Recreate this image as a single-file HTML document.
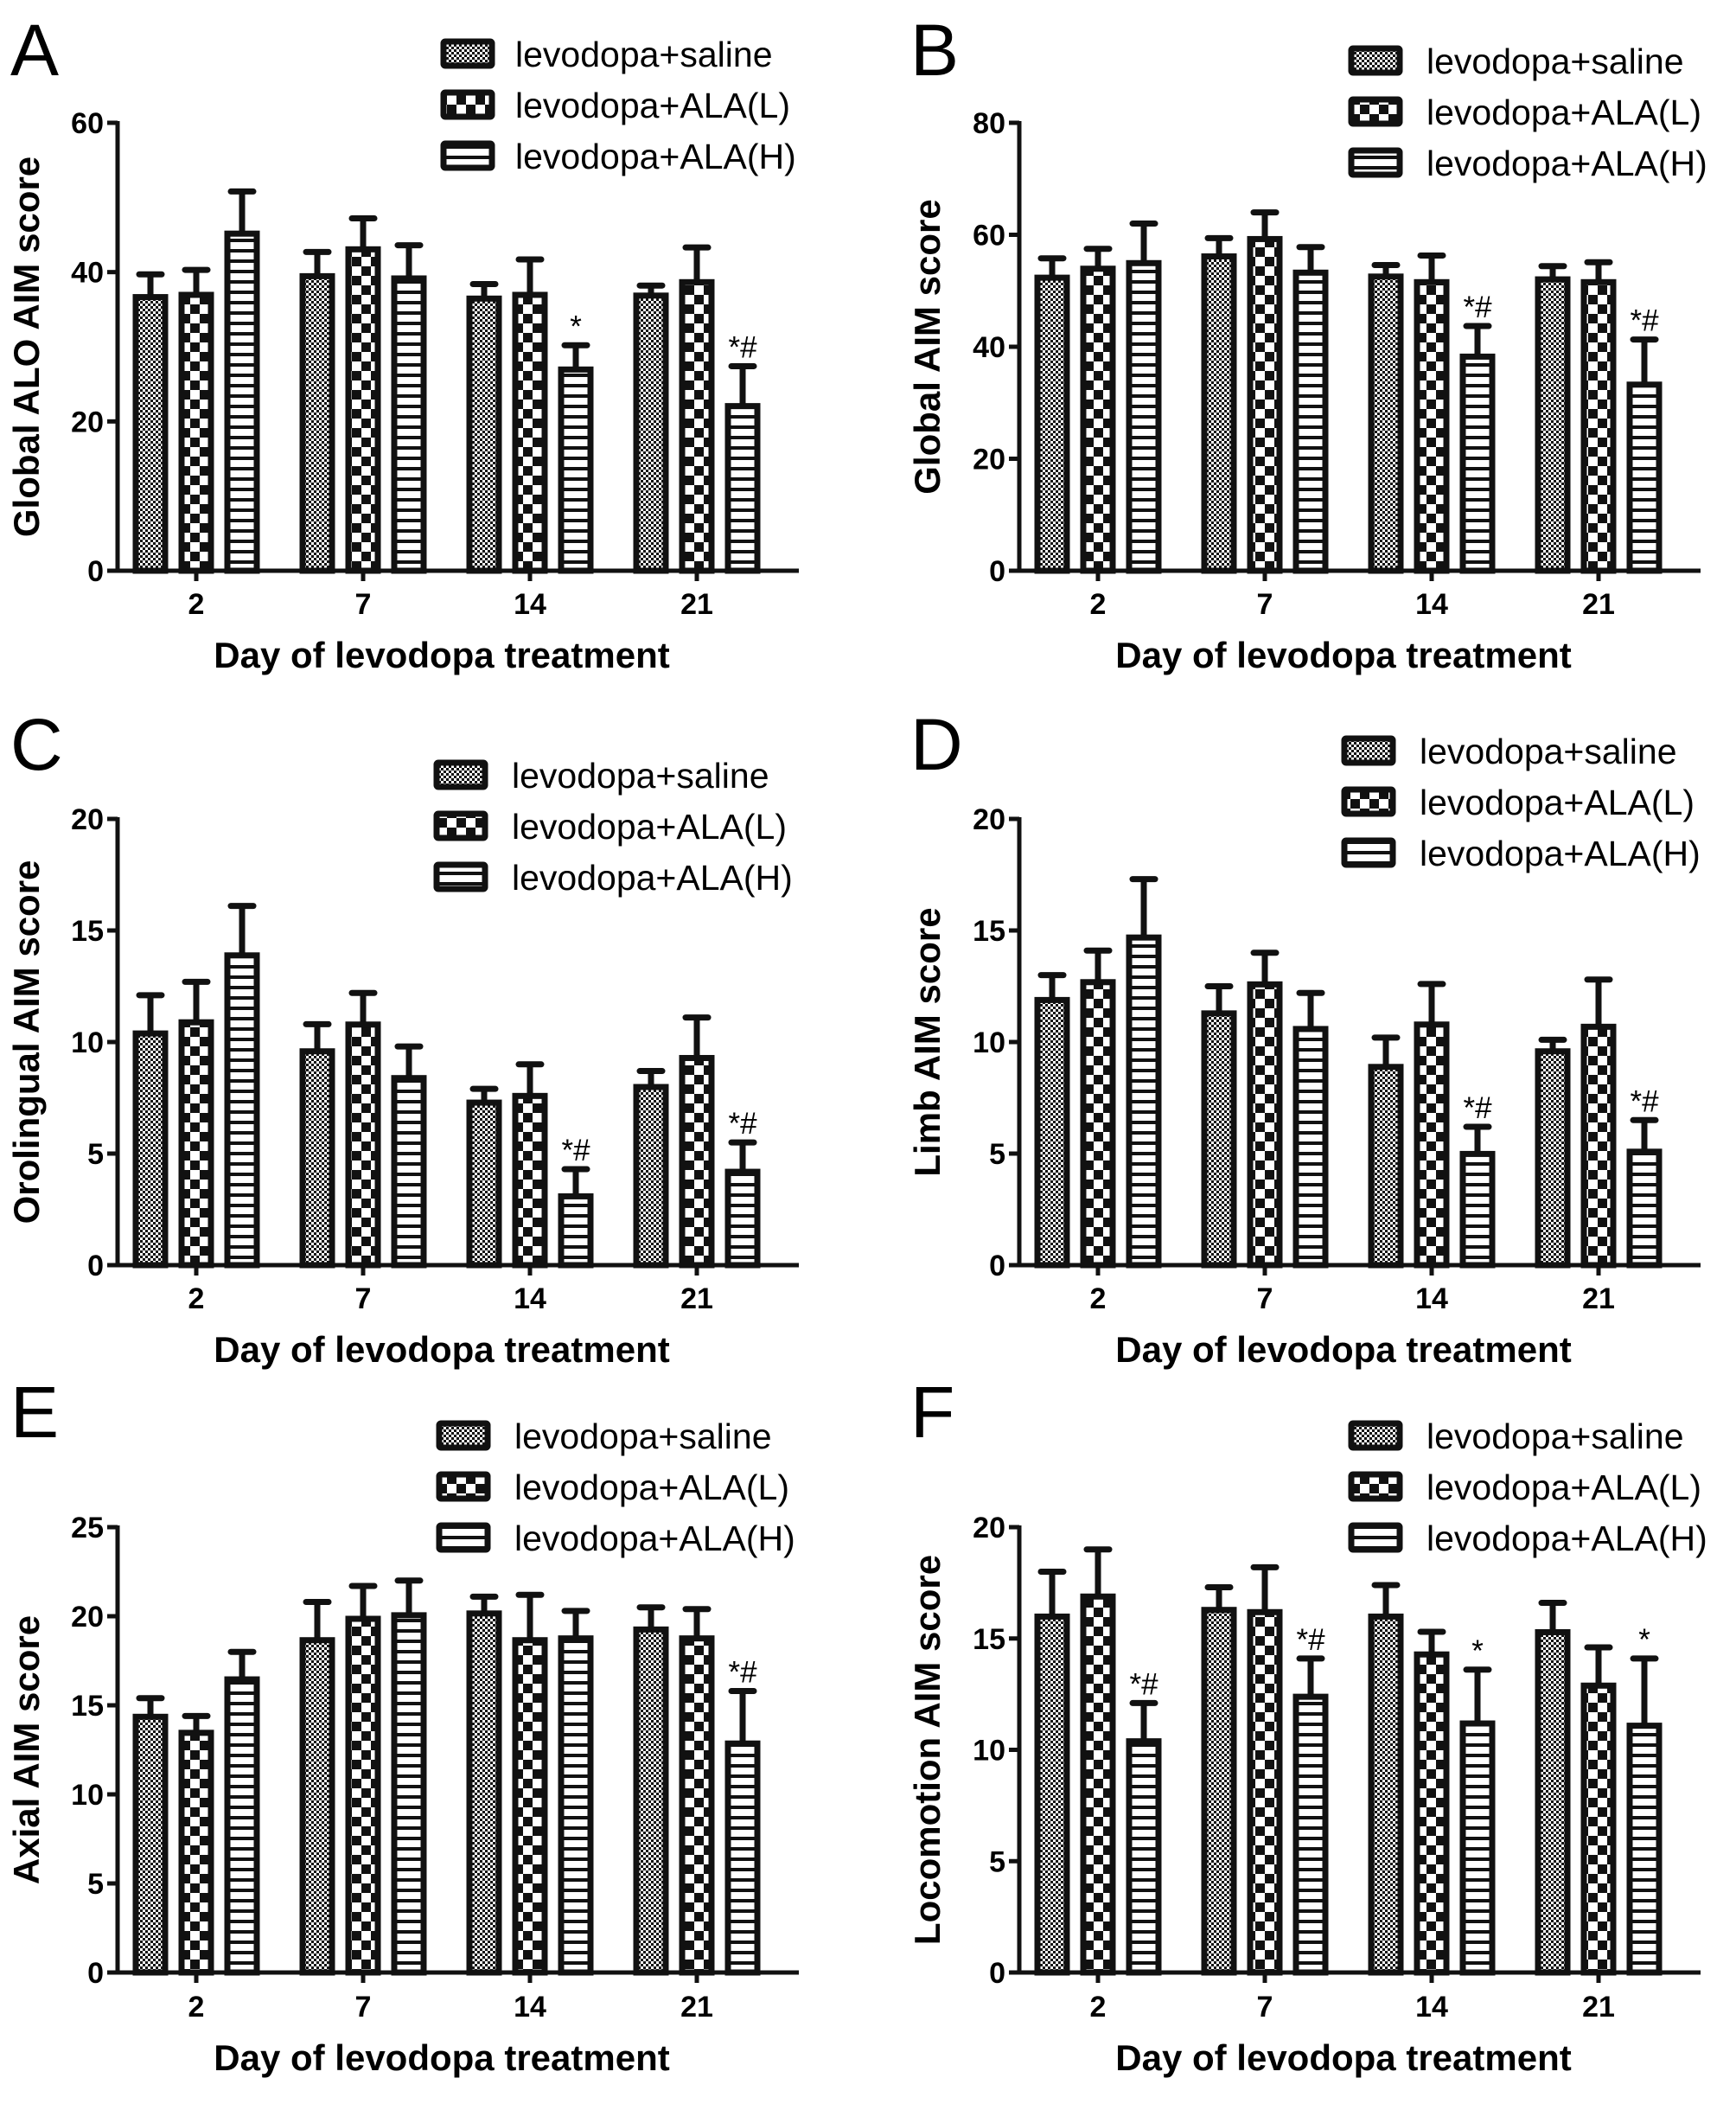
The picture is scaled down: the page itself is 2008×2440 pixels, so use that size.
<!DOCTYPE html>
<html><head><meta charset="utf-8"><style>
html,body{margin:0;padding:0;background:#fff;}
svg{display:block;}
text{font-family:"Liberation Sans",Arial,sans-serif;}
</style></head><body>
<svg id="fig" width="2008" height="2440" viewBox="0 0 2008 2440" xmlns="http://www.w3.org/2000/svg">
<defs>
<pattern id="pSal" width="6" height="6" patternUnits="userSpaceOnUse"><rect width="6" height="6" fill="#fff"/><rect width="3" height="3" fill="#111"/><rect x="3" y="3" width="3" height="3" fill="#111"/></pattern>
<pattern id="pL" width="22" height="22" patternUnits="userSpaceOnUse"><rect width="22" height="22" fill="#fff"/><rect width="11" height="11" fill="#111"/><rect x="11" y="11" width="11" height="11" fill="#111"/></pattern>
<pattern id="pH" width="12" height="12" patternUnits="userSpaceOnUse"><rect width="12" height="12" fill="#fff"/><rect y="0" width="12" height="4" fill="#111"/></pattern>
</defs>
</svg>
<script>
const categories = ["2","7","14","21"];
const seriesNames = ["levodopa+saline","levodopa+ALA(L)","levodopa+ALA(H)"];
// Panel A
const aSaline = [37,39.8,36.8,37.2], aSalineErr = [2.7,2.9,1.6,1.0];
const aL = [37.3,43.4,37.3,39], aLErr = [3.0,3.8,4.4,4.3];
const aH = [45.5,39.5,27.3,22.4], aHErr = [5.3,4.1,2.9,5.0];
const aMarks = ["","","*","*#"];
const aTicks = [0,20,40,60];
// Panel B
const bSaline = [52.8,56.6,53,52.5], bSalineErr = [3.0,2.8,1.6,1.9];
const bL = [54.4,59.7,52,52], bLErr = [3.1,4.3,4.3,3.1];
const bH = [55.4,53.7,38.7,33.7], bHErr = [6.6,4.1,5.0,7.6];
const bMarks = ["","","*#","*#"];
const bTicks = [0,20,40,60,80];
// Panel C
const cSaline = [10.5,9.7,7.4,8.1], cSalineErr = [1.6,1.1,0.5,0.6];
const cL = [11,10.9,7.7,9.4], cLErr = [1.7,1.3,1.3,1.7];
const cH = [14,8.5,3.2,4.3], cHErr = [2.1,1.3,1.1,1.2];
const cMarks = ["","","*#","*#"];
const cTicks = [0,5,10,15,20];
// Panel D
const dSaline = [12,11.4,9,9.7], dSalineErr = [1.0,1.1,1.2,0.4];
const dL = [12.8,12.7,10.9,10.8], dLErr = [1.3,1.3,1.7,2.0];
const dH = [14.8,10.7,5.1,5.2], dHErr = [2.5,1.5,1.1,1.3];
const dMarks = ["","","*#","*#"];
const dTicks = [0,5,10,15,20];
// Panel E
const eSaline = [14.5,18.8,20.3,19.4], eSalineErr = [0.9,2.0,0.8,1.1];
const eL = [13.6,20,18.8,18.9], eLErr = [0.8,1.7,2.4,1.5];
const eH = [16.6,20.2,18.9,13], eHErr = [1.4,1.8,1.4,2.8];
const eMarks = ["","","","*#"];
const eTicks = [0,5,10,15,20,25];
// Panel F
const fSaline = [16.1,16.4,16.1,15.4], fSalineErr = [1.9,0.9,1.3,1.2];
const fL = [17,16.3,14.4,13], fLErr = [2.0,1.9,0.9,1.6];
const fH = [10.5,12.5,11.3,11.2], fHErr = [1.6,1.6,2.3,2.9];
const fMarks = ["*#","*#","*","*"];
const fTicks = [0,5,10,15,20];

const NS="http://www.w3.org/2000/svg";
const svg=document.getElementById('fig');
function mk(tag,attrs,parent){const e=document.createElementNS(NS,tag);for(const k in attrs)e.setAttribute(k,attrs[k]);(parent||svg).appendChild(e);return e;}

const panels=[
 {id:'a',letter:'A',ox:0,y0:660,yTop:142,ticks:aTicks,ytitle:'Global ALO AIM score',v:[aSaline,aL,aH],e:[aSalineErr,aLErr,aHErr],m:aMarks,leg:{x:510,y:62,tx:596},xl:698,xt:757,ly:59},
 {id:'b',letter:'B',ox:1043,y0:660,yTop:142,ticks:bTicks,ytitle:'Global  AIM score',v:[bSaline,bL,bH],e:[bSalineErr,bLErr,bHErr],m:bMarks,leg:{x:1560,y:70,tx:1650},xl:698,xt:757,ly:59},
 {id:'c',letter:'C',ox:0,y0:1463,yTop:947,ticks:cTicks,ytitle:'Orolingual AIM score',v:[cSaline,cL,cH],e:[cSalineErr,cLErr,cHErr],m:cMarks,leg:{x:502,y:896,tx:592},xl:1501,xt:1560,ly:862},
 {id:'d',letter:'D',ox:1043,y0:1463,yTop:947,ticks:dTicks,ytitle:'Limb AIM score',v:[dSaline,dL,dH],e:[dSalineErr,dLErr,dHErr],m:dMarks,leg:{x:1552,y:868,tx:1642},xl:1501,xt:1560,ly:862},
 {id:'e',letter:'E',ox:0,y0:2281,yTop:1766,ticks:eTicks,ytitle:'Axial AIM score',v:[eSaline,eL,eH],e:[eSalineErr,eLErr,eHErr],m:eMarks,leg:{x:505,y:1660,tx:595},xl:2320,xt:2379,ly:1634},
 {id:'f',letter:'F',ox:1043,y0:2281,yTop:1766,ticks:fTicks,ytitle:'Locomotion AIM score',v:[fSaline,fL,fH],e:[fSalineErr,fLErr,fHErr],m:fMarks,leg:{x:1560,y:1660,tx:1650},xl:2320,xt:2379,ly:1634}
];
const fills=['url(#pSal)','url(#pL)','url(#pH)'];
const catOffsets=[91,284,477,670];

panels.forEach(p=>{
 const g=mk('g',{});
 
 
 const ax=136+p.ox, xEnd=924+p.ox;
 const yMax=p.ticks[p.ticks.length-1];
 const yS=v=>p.y0-(v/yMax)*(p.y0-p.yTop);
 const xS=i=>ax+catOffsets[i];
 const L=mk('text',{x:(p.ox?1053:12),y:p.ly+28,'font-size':'84'},g);L.textContent=p.letter;
 
 
 for(let s=0;s<3;s++){
  for(let i=0;i<categories.length;i++){
   const val=p.v[s][i], err=p.e[s][i];
   const cx=xS(i)+(s-1)*53;
   const top=yS(val), et=yS(val+err);
   const eb=mk('line',{x1:cx,y1:top,x2:cx,y2:et,stroke:'#111','stroke-width':7},g);
   
   
   const cap=mk('line',{x1:cx-13,y1:et,x2:cx+13,y2:et,stroke:'#111','stroke-width':7,'stroke-linecap':'round'},g);
   
   
   const r=mk('rect',{x:cx-17,y:top+3,width:34,height:p.y0-top-3,fill:fills[s],stroke:'#111','stroke-width':7},g);
   
   
   if(s===2&&p.m[i]){
    const t=mk('text',{x:cx,y:et-10,'text-anchor':'middle','font-size':'35'},g);t.textContent=p.m[i];
    
    
   }
  }
 }
 const ya=mk('line',{x1:ax,y1:p.yTop-2,x2:ax,y2:p.y0+2,stroke:'#111','stroke-width':5},g);
 
 
 const xa=mk('line',{x1:ax,y1:p.y0,x2:xEnd,y2:p.y0,stroke:'#111','stroke-width':5},g);
 
 
 p.ticks.forEach(t=>{
  const y=yS(t);
  mk('line',{x1:ax-12,y1:y,x2:ax,y2:y,stroke:'#111','stroke-width':5},g);
  const tl=mk('text',{x:ax-16,y:y+12,'text-anchor':'end','font-size':'34','font-weight':'bold'},g);tl.textContent=t;
  
  
 });
 categories.forEach((c,i)=>{
  mk('line',{x1:xS(i),y1:p.y0,x2:xS(i),y2:p.y0+12,stroke:'#111','stroke-width':5},g);
  const tl=mk('text',{x:xS(i),y:p.xl+12,'text-anchor':'middle','font-size':'34','font-weight':'bold'},g);tl.textContent=c;
  
  
 });
 const xt=mk('text',{x:511+p.ox,y:p.xt+15,'text-anchor':'middle','font-size':'42','font-weight':'bold'},g);xt.textContent='Day of levodopa treatment';
 
 
 const ycx=(p.ox?1073:31), ycy=(p.y0+p.yTop)/2;
 const yt=mk('text',{x:ycx,y:ycy,'text-anchor':'middle','font-size':'42','font-weight':'bold',transform:'rotate(-90 '+ycx+' '+ycy+') translate(0 14)'},g);yt.textContent=p.ytitle;
 
 
 seriesNames.forEach((n,s)=>{
  const ry=p.leg.y+s*59;
  const sw=mk('rect',{x:p.leg.x+3,y:ry-14,width:56,height:28,fill:fills[s],stroke:'#111','stroke-width':7,rx:2},g);
  
  
  const lt=mk('text',{x:p.leg.tx,y:ry+15,'font-size':'41'},g);lt.textContent=n;
  
  
 });
});
</script>
</body></html>
